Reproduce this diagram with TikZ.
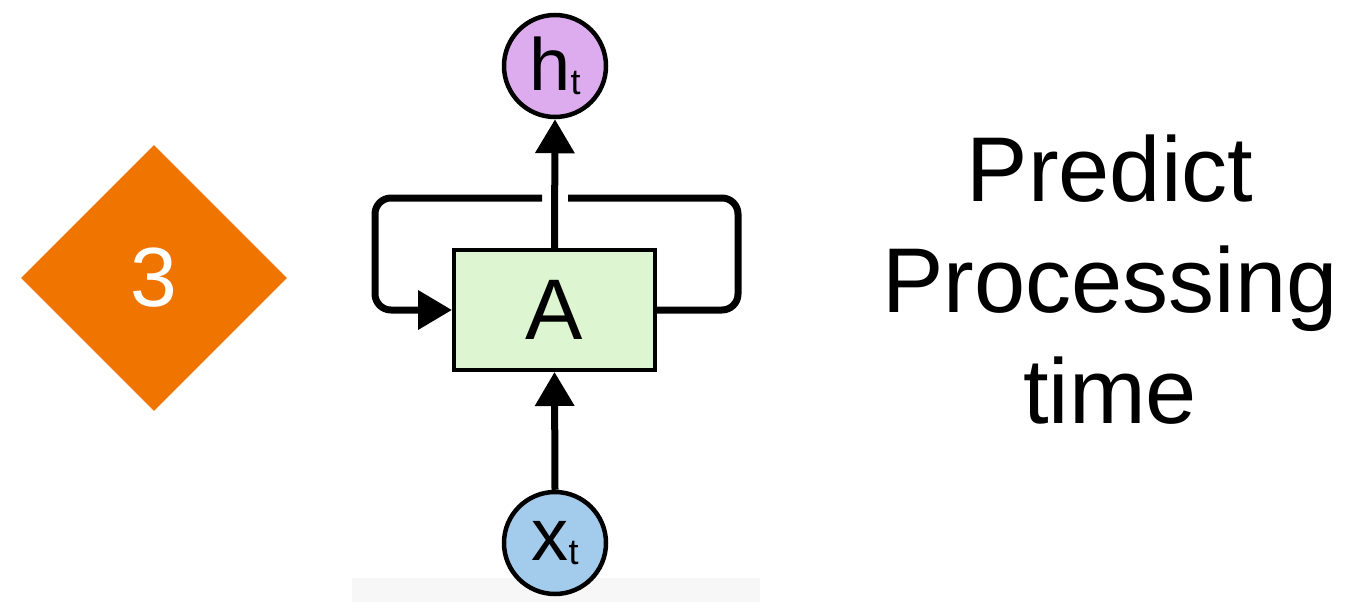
\documentclass[tikz,border=0pt]{standalone}
\usepackage{fontspec}
\setmainfont{Liberation Sans}
\usepackage{xcolor}
\usetikzlibrary{shapes.geometric, arrows.meta, positioning}

\definecolor{badgeorange}{RGB}{240,116,0}
\definecolor{cellgreen}{RGB}{221,245,208}
\definecolor{outpurple}{RGB}{221,172,238}
\definecolor{inblue}{RGB}{163,203,235}
\definecolor{stripgray}{RGB}{247,247,247}

\begin{document}
\begin{tikzpicture}[
    x=1pt, y=-1pt,
    badge/.style={diamond, fill=badgeorange, minimum width=266pt, minimum height=266pt, inner sep=0pt, text=white, font=\fontsize{84}{84}\selectfont},
    cell/.style={rectangle, draw, line width=4pt, fill=cellgreen, minimum width=201pt, minimum height=120pt, font=\fontsize{86}{86}\selectfont},
    state/.style={circle, draw, line width=4.5pt, minimum size=102pt, inner sep=0pt, font=\fontsize{74}{74}\selectfont},
    caption/.style={align=center, font=\fontsize{92}{111}\selectfont},
    arrow/.style={line width=7pt, -{Triangle[length=34pt, width=38pt]}},
    loopline/.style={line width=7pt, rounded corners=16pt}
  ]
    \useasboundingbox (0,0) rectangle (1358,602);
    \fill[stripgray] (352,578) rectangle (760,602);

    % Nodes
    \node (badge) [badge] at (154,278) {3};
    \node (cell) [cell] at (554.5,310) {A};
    \node (out) [state, fill=outpurple] at (555,66) {h\raisebox{-0.05em}{\fontsize{36}{36}\selectfont t}};
    \node (in) [state, fill=inblue] at (555,543) {x\raisebox{-0.05em}{\fontsize{36}{36}\selectfont t}};
    \node (caption) [caption] at (1110,280) {Predict\\Processing\\time};

    \coordinate (gapL) at (542,198);
    \coordinate (gapR) at (568,198);
    \coordinate (cornerL) at (375,198);
    \coordinate (cornerR) at (738,198);

    % Connections
    \draw [loopline] (cell.east) -| (cornerR) -- (gapR);
    \draw [loopline, arrow] (gapL) -- (cornerL) |- (cell.west);
    \draw [arrow] (cell.north) -- (out.south);
    \draw [arrow] (in.north) -- (cell.south);

  \end{tikzpicture}
\end{document}
